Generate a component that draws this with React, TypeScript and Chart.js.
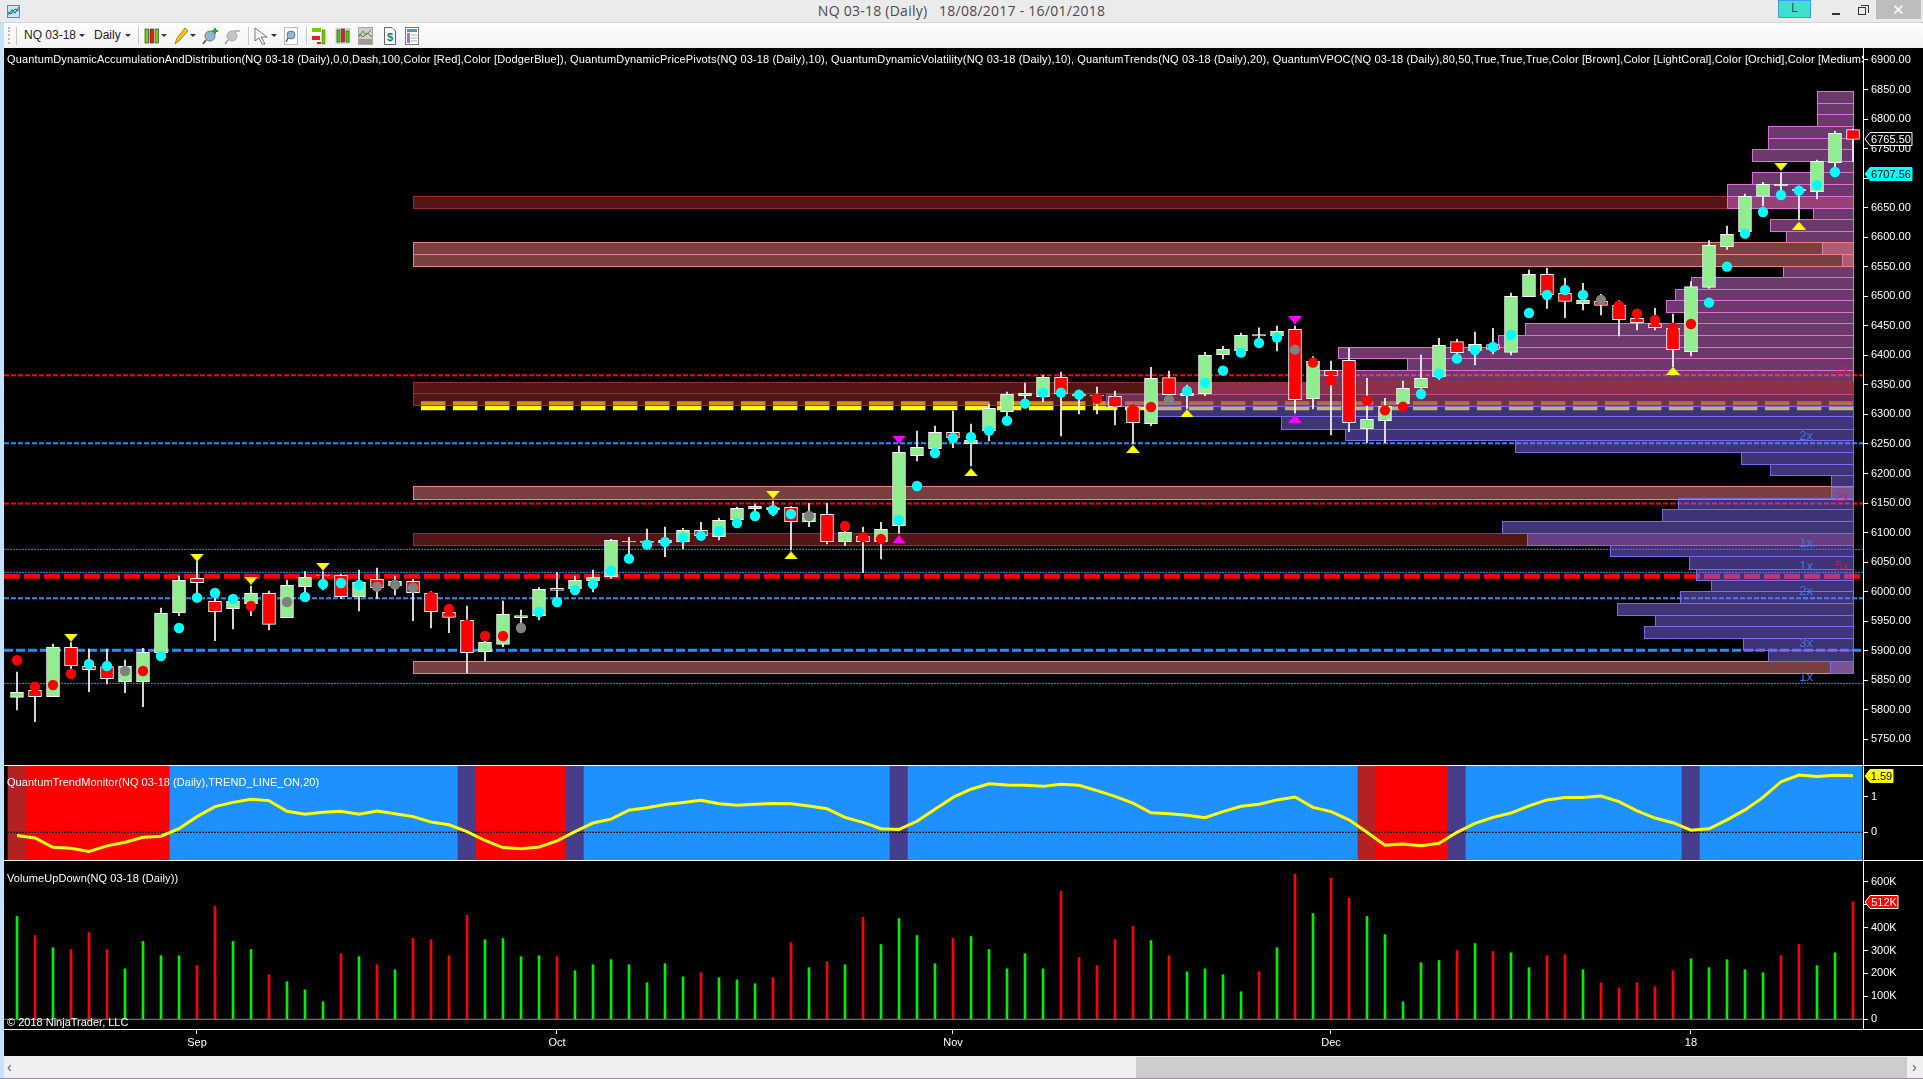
import React, { useEffect, useRef } from 'react';
import { Chart, registerables } from 'chart.js';

Chart.register(...registerables);

const FONT = '"Liberation Sans", Arial, sans-serif';

// ---------- candles (Open, High, Low, Close per daily bar) ----------
const opens = [5821,5832.9,5822.2,5905.7,5873.5,5873,5847.5,5847.5,5896.6,5964.4,6022.5,5983.5,5971.1,5979.6,5997.1,5955.9,6008.4,6028.6,6027.6,5991.4,6020.8,6009.5,6017.4,5997,5964.9,5951.4,5898.3,5910.8,5955.9,5959.3,6005.6,6005,6018.5,6025.3,6084.2,6083.4,6082.3,6084,6103.7,6093,6121.2,6140.4,6138.7,6142.7,6117.9,6130.8,6084.6,6094.2,6084.6,6111.6,6230.1,6242,6269.6,6250.5,6272.5,6304.6,6331.7,6330,6362.8,6334.5,6332.9,6330.6,6313.1,6284.3,6362.2,6331.7,6335.2,6401.2,6407.4,6433,6432.8,6444.1,6326.7,6374.7,6391.5,6275.9,6289.4,6318.2,6345.3,6363.9,6423.1,6407.3,6418.1,6405.1,6499.3,6537.1,6505,6487.5,6491.4,6485.2,6462.6,6453.6,6445.7,6406.2,6515.2,6584,6609.4,6669.2,6687.3,6681,6677.1,6726.2,6782.1];
const highs = [5864,5845.9,5911.3,5913.6,5902.8,5902.8,5884.2,5904,5972.3,6026.4,6050.7,6005.6,5991,6009.5,6001,6019.7,6033.8,6033.8,6029.8,6036.6,6040,6026.4,6020.8,6000,5975.6,5975.6,5916.4,5984.1,5968.9,6006.7,6032.1,6026.4,6036.6,6088.5,6091.9,6106,6109.4,6107.1,6117.3,6124,6143.2,6148.3,6153.4,6143.8,6149.4,6149.4,6107.1,6109.4,6117.3,6246.5,6271.9,6280.4,6305.8,6283.8,6317.6,6337.9,6353.2,6366.7,6371.8,6341.3,6346.4,6339.6,6315,6379.7,6373.5,6349.8,6405.2,6415.3,6437.9,6446.4,6449.7,6449.7,6397.8,6390.5,6411.8,6361,6327.2,6356.6,6400.6,6428.8,6427.1,6439.5,6445.7,6505.5,6544.5,6547.3,6530.4,6521.9,6503.3,6492.6,6473,6479.6,6470,6524.7,6594.2,6619,6673.2,6692.9,6709.3,6686.7,6730.7,6779.8,6783];
const lows = [5799.6,5779.8,5822.2,5867,5830.6,5843.6,5829,5805.2,5896.6,5959.3,5997.1,5917,5936.7,5959.3,5935,5955.9,5998.2,6002.7,5988.6,5967.2,5988.6,5994.3,5950.8,5938.4,5930.5,5862.8,5882.5,5906.8,5940.7,5951.9,5980,5997.1,5999.4,6022.5,6062,6073.3,6059.2,6072.1,6087.4,6087.4,6115.6,6126.9,6128.6,6070.5,6110,6080.6,6077.8,6032.1,6055.2,6098.7,6221.1,6236.9,6243.7,6212.7,6255,6296.2,6324.4,6321.6,6263.4,6300.7,6300.7,6282.1,6249.9,6280.9,6321.6,6310.3,6331.8,6393.9,6400.6,6420.4,6407.4,6301.9,6309.2,6265.2,6270.8,6252.2,6252.2,6313,6338.5,6359.4,6397.8,6383.6,6402.3,6400.6,6499.3,6479.6,6463.8,6476.8,6468.3,6432.7,6442.9,6442.9,6380.8,6398.9,6513.5,6579.5,6606.6,6652.9,6671.5,6629.2,6664.7,6719.4,6727.9];
const closes = [5829.5,5822.2,5906.2,5874.6,5867.9,5852.6,5874,5897.2,5963.2,6019.1,6015.2,5966,5984,5997.1,5944.6,6010.6,6024.2,6027.6,5991.4,6015.7,6006.7,6018,5998.2,5966,5956.5,5896.6,5914.1,5961.5,5959.3,6003.9,6002.2,6019.1,6024.2,6086.8,6085,6085.7,6086.8,6103.7,6094.7,6120.7,6141,6144.4,6142.1,6118.4,6133.1,6084.6,6100.4,6084.6,6105.4,6235.8,6244.3,6269.6,6260.6,6256.1,6310.3,6334,6335.7,6362.8,6334.5,6331.1,6331.1,6313.1,6286,6361,6333.4,6335.7,6400.1,6410.2,6433.9,6435,6440.7,6325,6389.9,6365.7,6286,6291.7,6313.7,6344.1,6361,6417,6404.5,6418.6,6410.2,6499.9,6537.1,6502.1,6491.4,6493.1,6484.7,6460.4,6455.3,6446.8,6409.6,6516.3,6586.3,6604.9,6669.2,6689.5,6689.5,6678.8,6728.5,6775.9,6765.5];

// ---------- volatility dots: value and kind (c cyan, r red, g gray, - none) ----------
const dotValues = [5884,5839,5842,5861,5877.5,5874,5865.6,5865.6,5891,5938.4,5989.8,5997.7,5987.5,5975.6,null,5982.4,5990.9,6012.9,6014.6,6011.2,6008.4,6011.8,6006.7,5991.5,5970.6,5944.6,5924.9,5924.9,5938.4,5965.5,5982.4,6002.7,6012.9,6035.5,6055.8,6079.5,6084,6091.3,6094.7,6102.6,6116,6128,6138.2,6131.4,6128,null,6111,6092.5,6089,6121.2,6178.8,6234.7,6260,6261.7,6272.5,6289.4,6318.2,6336.8,6336.8,6333.4,6326.6,6321.6,6308.6,6312.5,6324.4,6339.6,6353.8,6374.1,6404.6,6421,6430,6409.7,6387.7,6358.3,null,6323.3,6306.9,6313.1,6334.6,6369,6394.4,6409,6414.1,6434.4,6471.7,6502.1,6510.6,6502.1,6493.7,6484,6470.5,6459.8,6446.8,6453.1,6489.2,6550.2,6606,6642.7,6671.5,6678.8,6688.4,6710.4,null];
const dotKinds = 'rrrrccgrcc' + 'cccr-gcccc' + 'gggrrrrrgc' + 'cccccccccc' + 'ccccg-rrrc' + 'cccccccccc' + 'rrrrgccccc' + 'cgrr-rrrcc' + 'ccccccccgr' + 'rrrrcccccc' + 'cc-';

// ---------- pivot triangles: bar index and price ----------
const pivotDownBars = [3, 10, 13, 17, 42, 98];
const pivotDownPrices = [5922, 6057.5, 6018.5, 6042.2, 6164.1, 6719.4];
const pivotUpBars = [43, 53, 62, 65, 92, 99];
const pivotUpPrices = [6061.4, 6202, 6241.4, 6301.8, 6374, 6619.6];
const extremeDownBars = [49, 71];
const extremeDownPrices = [6257.2, 6459.3];
const extremeUpBars = [49, 71];
const extremeUpPrices = [6088.5, 6292.9];

// ---------- accumulation / distribution levels ----------
const redLevels = [6366.1, 6149.4, 6025.9];
const blueLevels = [6251, 6071.6, 6032.6, 5988.6, 5900.6, 5844.7];
const vpocLevel = 6314.8;

// ---------- VPOC zones (each is either under or over the profile) ----------
const darkZoneLows = [6650, 6335.7, 6315.4, 6079.5];
const darkZoneHighs = [6669.3, 6354.9, 6335.7, 6099.2];
const darkZoneOnTop = [false, true, true, false];
const lightZoneLows = [6571.1, 6551.8, 6157.3, 5862.8];
const lightZoneHighs = [6591.4, 6571.1, 6178.8, 5882.5];
const lightZoneOnTop = [true, true, false, false];
const zoneFirstBar = 22;
const zoneLastBar = 102;

// ---------- volume profile: price edges and the bar where each row begins ----------
const profileEdges = [5862.8,5882,5901.7,5922,5941,5961,5981,6000.5,6020,6039,6059.7,6079.5,6098.7,6119,6139.3,6158.5,6177.7,6196.9,6216.6,6237,6256,6275.9,6296.7,6314.8,6334.6,6354.9,6374.6,6395,6413.6,6433.9,6454,6472.8,6493.1,6512.3,6532,6551.5,6571,6591.4,6611,6630,6650,6669,6689.5,6709.8,6728.5,6748.8,6768.5,6788.3,6808,6826.7,6847];
const profileStarts = [100.7,97.3,95.9,90.4,91,88.9,92.4,94.1,93.3,92.9,88.5,83.9,82.5,91.4,92.3,100.8,100.8,97.4,95.8,83.2,73.8,70.2,63.3,60.5,64,72.3,77.2,73.4,82.3,83.8,92.6,91.6,92.1,93,98.1,101.4,100.3,98.3,97.4,99.8,95,95,96.4,100,96.4,97.3,97.3,100,100,100];
const profileLowerRows = 24;

// ---------- level multipliers written on the profile ----------
const multiplierTexts = ['2x', '2x', '2x', '1x', '1x', '5x', '2x', '3x', '1x'];
const multiplierBars = [101.4, 99.4, 101.4, 99.4, 99.4, 101.4, 99.4, 99.4, 99.4];
const multiplierPrices = [6376, 6262, 6160, 6081, 6042, 6042, 6000, 5913, 5854];
const multiplierKinds = 'rbrbbrbbb';

// ---------- trend monitor ----------
const trendValues = [-0.09,-0.16,-0.42,-0.45,-0.54,-0.38,-0.28,-0.14,-0.11,0.1,0.44,0.72,0.84,0.93,0.89,0.59,0.51,0.56,0.59,0.51,0.6,0.52,0.44,0.29,0.21,0.02,-0.23,-0.43,-0.46,-0.41,-0.24,0.02,0.26,0.37,0.62,0.69,0.78,0.84,0.9,0.8,0.76,0.79,0.81,0.8,0.74,0.66,0.42,0.28,0.1,0.08,0.31,0.65,0.98,1.21,1.36,1.33,1.32,1.29,1.35,1.32,1.17,1.01,0.82,0.55,0.52,0.48,0.41,0.58,0.73,0.79,0.91,0.99,0.7,0.58,0.35,0,-0.36,-0.33,-0.38,-0.31,0,0.25,0.42,0.54,0.74,0.91,0.98,0.98,1.02,0.86,0.6,0.4,0.27,0.06,0.1,0.35,0.63,0.98,1.42,1.61,1.57,1.6,1.59];
const trendStates = 'f' + 'rrrrrrrr' + 'bbbbbbbbbbbbbbbb' + 'p' + 'rrrrr' + 'p' + 'bbbbbbbbbbbbbbbbb' + 'p' + 'bbbbbbbbbbbbbbbbbbbbbbbbb' + 'f' + 'rrrr' + 'p' + 'bbbbbbbbbbbb' + 'p' + 'bbbbbbbbb';

// ---------- volume, thousands ----------
const volumes = [448,365,312,304,378,304,220,339,277,277,234,492,339,304,194,164,128,76,286,273,238,216,352,347,277,453,347,352,273,277,273,212,238,260,238,159,242,185,203,181,172,155,181,334,225,251,238,444,326,439,365,242,352,361,304,220,286,220,558,269,234,347,404,343,277,207,220,194,120,207,312,632,461,615,527,448,369,76,247,256,299,330,295,290,225,277,282,216,159,137,159,142,212,264,225,260,216,203,277,326,234,290,512];
const volumeDirections = 'grgrrrgggg' + 'rrggrgggrg' + 'rgrrrrgggg' + 'rgggggggrg' + 'ggrrgrgrgg' + 'ggrgggggrr' + 'rrrgrggggr' + 'grgrrggggg' + 'rgrggrrgrr' + 'rrrgggggrr' + 'ggr';

// ---------- axes ----------
const priceTicks = [6900,6850,6800,6750,6700,6650,6600,6550,6500,6450,6400,6350,6300,6250,6200,6150,6100,6050,6000,5950,5900,5850,5800,5750];
const trendTicks = [1, 0];
const volumeTicks = [600,500,400,300,200,100,0];
const monthBars = [10, 30, 52, 73, 93];
const monthLabels = ['Sep', 'Oct', 'Nov', 'Dec', '18'];
const lastPrice = 6765.5;
const lastVolatility = 6707.56;
const lastTrend = 1.59;
const lastVolume = 512;

const priceLegend = 'QuantumDynamicAccumulationAndDistribution(NQ 03-18 (Daily),0,0,Dash,100,Color [Red],Color [DodgerBlue]), QuantumDynamicPricePivots(NQ 03-18 (Daily),10), QuantumDynamicVolatility(NQ 03-18 (Daily),10), QuantumTrends(NQ 03-18 (Daily),20), QuantumVPOC(NQ 03-18 (Daily),80,50,True,True,True,Color [Brown],Color [LightCoral],Color [Orchid],Color [MediumSlateBlue])';
const trendLegend = 'QuantumTrendMonitor(NQ 03-18 (Daily),TREND_LINE_ON,20)';
const volumeLegend = 'VolumeUpDown(NQ 03-18 (Daily))';
const copyright = '© 2018 NinjaTrader, LLC';

// ---------- drawing styles ----------
const X_MIN = -0.722;
const X_MAX = 102.556;
const PRICE_MIN = 5706.5;
const PRICE_MAX = 6920.3;
const TREND_MIN = -0.806;
const TREND_MAX = 1.862;
const VOL_MIN = -42.3;
const VOL_MAX = 690;

const bars = opens.map((_, i) => i);
const redStyles = [{ w: 2, d: [5, 2] }, { w: 2, d: [5, 2] }, { w: 5, d: [16, 4] }];
const blueStyles = [{ w: 2, d: [5, 2] }, { w: 1, d: [2, 1] }, { w: 1, d: [2, 1] }, { w: 2, d: [5, 2] }, { w: 3, d: [9, 3] }, { w: 1, d: [2, 1] }];

function triangle(color: string, down: boolean) {
  const c = document.createElement('canvas');
  c.width = 14;
  c.height = 8;
  const g = c.getContext('2d')!;
  g.fillStyle = color;
  g.beginPath();
  if (down) {
    g.moveTo(0, 0); g.lineTo(14, 0); g.lineTo(7, 8);
  } else {
    g.moveTo(0, 8); g.lineTo(14, 8); g.lineTo(7, 0);
  }
  g.closePath();
  g.fill();
  return c;
}

function pointsOf(barList: number[], values: number[]) {
  return barList.map((b, i) => ({ x: b, y: values[i] }));
}

function horizontal(y: number, from = X_MIN, to = X_MAX) {
  return [{ x: from, y }, { x: to, y }];
}

function levelDataset(label: string, y: number, color: string, s: { w: number; d: number[] }, from = X_MIN, to = X_MAX) {
  return {
    type: 'line', label, data: horizontal(y, from, to), borderColor: color, borderWidth: s.w,
    borderDash: s.d, pointRadius: 0, fill: false, borderCapStyle: 'butt', tension: 0,
  };
}

function drawRow(ctx: any, chart: any, from: number, to: number, low: number, high: number, fill: string, stroke: string) {
  const { x, y } = chart.scales;
  const l = Math.round(x.getPixelForValue(from));
  const r = Math.round(x.getPixelForValue(to));
  const t = Math.round(y.getPixelForValue(high));
  const b = Math.round(y.getPixelForValue(low));
  ctx.fillStyle = fill;
  ctx.fillRect(l, t, r - l, b - t);
  ctx.strokeStyle = stroke;
  ctx.lineWidth = 1;
  ctx.strokeRect(l + 0.5, t + 0.5, r - l, b - t);
}

function drawZones(ctx: any, chart: any, onTop: boolean) {
  darkZoneLows.forEach((low, i) => {
    if (darkZoneOnTop[i] === onTop) drawRow(ctx, chart, zoneFirstBar, zoneLastBar, low, darkZoneHighs[i], 'rgba(165,42,42,0.5)', 'rgba(165,42,42,0.95)');
  });
  lightZoneLows.forEach((low, i) => {
    if (lightZoneOnTop[i] === onTop) drawRow(ctx, chart, zoneFirstBar, zoneLastBar, low, lightZoneHighs[i], 'rgba(240,128,128,0.5)', 'rgba(240,128,128,1)');
  });
}

function drawZonesAndProfile(chart: any) {
  const ctx = chart.ctx;
  ctx.save();
  drawZones(ctx, chart, false);
  profileStarts.forEach((start, i) => {
    const lower = i < profileLowerRows;
    drawRow(ctx, chart, start, zoneLastBar, profileEdges[i], profileEdges[i + 1],
      lower ? 'rgba(123,104,238,0.5)' : 'rgba(218,112,214,0.5)',
      lower ? 'rgba(123,104,238,1)' : 'rgba(218,112,214,1)');
  });
  drawZones(ctx, chart, true);
  ctx.font = `13px ${FONT}`;
  ctx.textAlign = 'center';
  ctx.textBaseline = 'middle';
  multiplierTexts.forEach((t, i) => {
    ctx.fillStyle = multiplierKinds[i] === 'r' ? 'rgba(225,20,70,0.8)' : 'rgba(60,120,235,0.95)';
    ctx.fillText(t, chart.scales.x.getPixelForValue(multiplierBars[i]), chart.scales.y.getPixelForValue(multiplierPrices[i]));
  });
  ctx.restore();
}

function drawLegend(chart: any, text: string, y: number, spacing = 0) {
  const ctx = chart.ctx;
  ctx.save();
  ctx.beginPath();
  ctx.rect(0, 0, chart.chartArea.right, chart.height);
  ctx.clip();
  ctx.font = `11px ${FONT}`;
  ctx.letterSpacing = `${spacing}px`;
  ctx.fillStyle = '#ffffff';
  ctx.textAlign = 'left';
  ctx.textBaseline = 'middle';
  ctx.fillText(text, 3, y);
  ctx.restore();
}

function drawTag(chart: any, scaleValue: number, w: number, h: number, fill: string, stroke: string, color: string, text: string) {
  const ctx = chart.ctx;
  const yc = Math.round(chart.scales.y.getPixelForValue(scaleValue));
  const xl = chart.chartArea.right + 2;
  ctx.save();
  ctx.beginPath();
  ctx.moveTo(xl, yc);
  ctx.lineTo(xl + 5, yc - h / 2);
  ctx.lineTo(xl + w, yc - h / 2);
  ctx.lineTo(xl + w, yc + h / 2);
  ctx.lineTo(xl + 5, yc + h / 2);
  ctx.closePath();
  ctx.fillStyle = fill;
  ctx.fill();
  ctx.lineWidth = 1;
  ctx.strokeStyle = stroke;
  ctx.stroke();
  ctx.font = `11px ${FONT}`;
  ctx.fillStyle = color;
  ctx.textAlign = 'center';
  ctx.textBaseline = 'middle';
  ctx.fillText(text, xl + (w + 5) / 2, yc + 0.5);
  ctx.restore();
}

const pricePlugin = {
  id: 'priceOverlay',
  beforeDatasetDraw(chart: any, args: any) {
    if (chart.data.datasets[args.index].label === 'Wicks') drawZonesAndProfile(chart);
  },
  afterDraw(chart: any) {
    drawLegend(chart, priceLegend, 12, 0.14);
    drawTag(chart, lastPrice, 47, 13, '#000000', '#ffffff', '#ffffff', lastPrice.toFixed(2));
    drawTag(chart, lastVolatility, 47, 13, '#00ffff', '#00ffff', '#000000', lastVolatility.toFixed(2));
  },
};

const trendPlugin = {
  id: 'trendOverlay',
  afterDraw(chart: any) {
    drawLegend(chart, trendLegend, 17, 0.05);
    drawTag(chart, lastTrend, 28, 13, '#ffff00', '#ffff00', '#000000', lastTrend.toFixed(2));
  },
};

const volumePlugin = {
  id: 'volumeOverlay',
  afterDraw(chart: any) {
    drawLegend(chart, volumeLegend, 18, 0.08);
    drawLegend(chart, copyright, 162);
    drawTag(chart, lastVolume, 33, 13, '#ff0000', '#ffffff', '#ffffff', `${lastVolume}K`);
  },
};

function xScale(visible: boolean) {
  if (!visible) return { type: 'linear', display: false, min: X_MIN, max: X_MAX, offset: false, grid: { display: false } };
  return {
    type: 'linear', min: X_MIN, max: X_MAX, offset: false,
    afterBuildTicks(a: any) { a.ticks = monthBars.map((v) => ({ value: v })); },
    afterFit(a: any) { a.height = 27; a.paddingLeft = 0; a.paddingRight = 0; },
    grid: { drawOnChartArea: false, drawTicks: true, tickLength: 5, tickColor: '#ffffff', offset: false },
    border: { display: false },
    ticks: {
      autoSkip: false, maxRotation: 0, minRotation: 0, color: '#ffffff', padding: 2,
      font: { family: FONT, size: 11 },
      callback: (v: number) => monthLabels[monthBars.indexOf(v)] ?? '',
    },
  };
}

function yScale(min: number, max: number, tickList: number[], fmt: (v: number) => string) {
  return {
    type: 'linear', position: 'right', min, max,
    afterBuildTicks(a: any) { a.ticks = tickList.map((v) => ({ value: v })); },
    afterFit(a: any) { a.width = 60; a.paddingTop = 0; a.paddingBottom = 0; },
    grid: { drawOnChartArea: false, drawTicks: true, tickLength: 5, tickColor: '#ffffff' },
    border: { display: true, color: '#ffffff', width: 1 },
    ticks: { autoSkip: false, color: '#ffffff', padding: 3, font: { family: FONT, size: 11 }, callback: fmt },
  };
}

function makeChart(canvas: HTMLCanvasElement, datasets: any[], x: any, y: any, plugin: any) {
  return new Chart(canvas, {
    type: 'bar',
    data: { datasets },
    options: {
      responsive: false,
      animation: false,
      devicePixelRatio: 1,
      events: [],
      layout: { autoPadding: false, padding: 0 },
      datasets: { bar: { grouped: false } },
      scales: { x, y },
      plugins: { legend: { display: false }, tooltip: { enabled: false }, title: { display: false } },
    } as any,
    plugins: [plugin],
  } as any);
}

function markerDataset(label: string, data: any[], style: any) {
  return { type: 'line', label, data, showLine: false, pointStyle: style, pointRadius: 7, pointBorderWidth: 0 };
}

function priceDatasets() {
  const dotColor: Record<string, string> = { c: '#00ffff', r: '#ff0000', g: '#808080' };
  const dotPoints: any[] = [];
  const dotColors: string[] = [];
  dotValues.forEach((v, i) => {
    if (v === null) return;
    dotPoints.push({ x: i, y: v });
    dotColors.push(dotColor[dotKinds[i]]);
  });
  return [
    markerDataset('Pivot down', pointsOf(pivotDownBars, pivotDownPrices), triangle('#ffff00', true)),
    markerDataset('Pivot up', pointsOf(pivotUpBars, pivotUpPrices), triangle('#ffff00', false)),
    markerDataset('Extreme down', pointsOf(extremeDownBars, extremeDownPrices), triangle('#ff00ff', true)),
    markerDataset('Extreme up', pointsOf(extremeUpBars, extremeUpPrices), triangle('#ff00ff', false)),
    {
      type: 'line', label: 'Volatility', data: dotPoints, showLine: false, pointStyle: 'circle',
      pointRadius: 5.2, pointBorderWidth: 0, pointBackgroundColor: dotColors,
    },
    {
      type: 'bar', label: 'Bodies', data: bars.map((i) => ({ x: i, y: [opens[i], closes[i]] })),
      backgroundColor: bars.map((i) => (closes[i] >= opens[i] ? '#90ee90' : '#ff0000')),
      borderColor: '#ffffff', borderWidth: 1, borderSkipped: false, barThickness: 13,
    },
    {
      type: 'bar', label: 'Wicks', data: bars.map((i) => ({ x: i, y: [lows[i], highs[i]] })),
      backgroundColor: '#ffffff', barThickness: 1,
    },
    levelDataset('VPOC', vpocLevel, '#ffff00', { w: 9, d: [24.5, 7.5] }, 22.44, zoneLastBar),
    ...redLevels.map((v, i) => levelDataset(`Resistance ${i}`, v, '#ff0000', redStyles[i])),
    ...blueLevels.map((v, i) => levelDataset(`Support ${i}`, v, '#1e90ff', blueStyles[i])),
  ];
}

function trendDatasets() {
  const stateColor: Record<string, string> = { f: '#b22222', r: '#ff0000', b: '#1e90ff', p: '#483d8b' };
  return [
    {
      type: 'line', label: 'Trend', data: bars.map((i) => ({ x: i, y: trendValues[i] })),
      borderColor: '#ffff00', borderWidth: 3, pointRadius: 0, tension: 0,
    },
    {
      type: 'line', label: 'Zero', data: horizontal(0), borderColor: '#000000', borderWidth: 1,
      borderDash: [2, 1], pointRadius: 0,
    },
    {
      type: 'bar', label: 'State', data: bars.map((i) => ({ x: i, y: [TREND_MIN, TREND_MAX] })),
      backgroundColor: bars.map((i) => stateColor[trendStates[i]]), barThickness: 18, borderWidth: 0,
    },
  ];
}

function volumeDatasets() {
  return [
    {
      type: 'line', label: 'Zero', data: horizontal(0), borderColor: '#8a8a8a', borderWidth: 1, pointRadius: 0,
    },
    {
      type: 'bar', label: 'Volume', data: bars.map((i) => ({ x: i, y: volumes[i] })),
      backgroundColor: bars.map((i) => (volumeDirections[i] === 'g' ? '#00ee00' : '#ff0000')), barThickness: 2,
    },
  ];
}

const absolute = (left: number, top: number, width: number, height: number, extra: any = {}) => ({
  position: 'absolute', left, top, width, height, ...extra,
}) as React.CSSProperties;

function Caret({ x }: { x: number }) {
  return <div style={{ position: 'absolute', left: x, top: 34, width: 0, height: 0, borderLeft: '3px solid transparent', borderRight: '3px solid transparent', borderTop: '3px solid #333' }} />;
}

function CandleIcon({ x }: { x: number }) {
  return (
    <svg style={absolute(x, 26, 16, 20)} viewBox="0 0 16 20">
      <rect x="0.5" y="2" width="15" height="16" fill="#cfcfcf" />
      <rect x="2" y="4" width="3" height="12" fill="#55d000" stroke="#222" strokeWidth="0.5" />
      <rect x="6.5" y="3" width="3" height="13" fill="#e02020" stroke="#222" strokeWidth="0.5" />
      <rect x="11" y="5" width="3" height="11" fill="#55d000" stroke="#222" strokeWidth="0.5" />
    </svg>
  );
}

function Toolbar() {
  return (
    <>
      <div style={absolute(0, 0, 1923, 22, { background: '#ebebeb' })} />
      <div style={absolute(0, 22, 1923, 1, { background: '#d4d4d4' })} />
      <div style={absolute(4, 23, 1919, 25, { background: 'linear-gradient(#ffffff, #f2f2f2)' })} />
      <svg style={absolute(7, 5, 13, 13)} viewBox="0 0 13 13">
        <rect x="0.5" y="0.5" width="12" height="12" fill="#cfe4f8" stroke="#6d86a5" />
        <path d="M1 10 L5 5 L8 8 L12 2" stroke="#23a030" fill="none" strokeWidth="1.2" />
        <path d="M1 7 L4 9 L8 4 L12 6" stroke="#2050c0" fill="none" strokeWidth="1" />
      </svg>
      <div style={absolute(520, 2, 883, 18, { textAlign: 'center', font: '14px "Open Sans", sans-serif', letterSpacing: '0.25px', color: '#4a4a4a', lineHeight: '18px', whiteSpace: 'pre' })}>NQ 03-18 (Daily)   18/08/2017 - 16/01/2018</div>
      <div style={absolute(1778, 0, 33, 18, { background: '#40e0d0', border: '1px solid #3b9cf0', boxSizing: 'border-box', textAlign: 'center', font: `12px ${FONT}`, lineHeight: '15px', color: '#1c5a55' })}>L</div>
      <div style={absolute(1832, 13, 8, 2, { background: '#333' })} />
      <div style={absolute(1858, 7, 8, 8, { border: '1px solid #333', boxSizing: 'border-box' })} />
      <div style={absolute(1861, 5, 8, 8, { borderTop: '1px solid #333', borderRight: '1px solid #333', boxSizing: 'border-box' })} />
      <div style={absolute(1876, 0, 45, 19, { background: '#bdbdbd', color: '#fff', textAlign: 'center', font: `15px ${FONT}`, lineHeight: '19px' })}>✕</div>

      <div style={absolute(8, 27, 2, 17, { borderLeft: '2px dotted #bbb' })} />
      <div style={absolute(16, 27, 1, 18, { background: '#c8c8c8' })} />
      <div style={absolute(24, 27, 54, 16, { font: `12px ${FONT}`, color: '#222', lineHeight: '16px', whiteSpace: 'nowrap' })}>NQ 03-18</div>
      <Caret x={79} />
      <div style={absolute(94, 27, 30, 16, { font: `12px ${FONT}`, color: '#222', lineHeight: '16px' })}>Daily</div>
      <Caret x={125} />
      <div style={absolute(138, 27, 1, 18, { background: '#c8c8c8' })} />
      <svg style={absolute(144, 26, 15, 20)} viewBox="0 0 15 20">
        <rect x="1" y="3" width="3.5" height="14" fill="#7ad000" stroke="#222" strokeWidth="0.6" />
        <rect x="6" y="3" width="3.5" height="14" fill="#e02020" stroke="#222" strokeWidth="0.6" />
        <rect x="11" y="3" width="3.5" height="14" fill="#7ad000" stroke="#222" strokeWidth="0.6" />
      </svg>
      <Caret x={161} />
      <svg style={absolute(173, 27, 16, 18)} viewBox="0 0 16 18">
        <path d="M2 17 L4 11 L12 1 L15 4 L6 14 Z" fill="#f0c020" stroke="#8a6a00" strokeWidth="0.7" />
      </svg>
      <Caret x={190} />
      <svg style={absolute(202, 27, 17, 18)} viewBox="0 0 17 18">
        <circle cx="8" cy="9" r="5" fill="#8fb8de" stroke="#777" />
        <path d="M4 13 L1 17" stroke="#666" strokeWidth="2" />
        <path d="M13 1 V7 M10 4 H16" stroke="#20b020" strokeWidth="2" />
      </svg>
      <svg style={absolute(224, 27, 17, 18)} viewBox="0 0 17 18">
        <circle cx="8" cy="9" r="5" fill="#c4c4c4" stroke="#aaa" />
        <path d="M4 13 L1 17" stroke="#aaa" strokeWidth="2" />
        <path d="M10 4 H16" stroke="#bbb" strokeWidth="2" />
      </svg>
      <div style={absolute(248, 27, 1, 18, { background: '#c8c8c8' })} />
      <svg style={absolute(254, 27, 14, 18)} viewBox="0 0 14 18">
        <path d="M1 1 L13 10 L7 10 L11 17 L8 17 L5 11 L1 14 Z" fill="#fff" stroke="#555" strokeWidth="0.8" />
      </svg>
      <Caret x={271} />
      <svg style={absolute(284, 27, 14, 18)} viewBox="0 0 14 18">
        <rect x="0.5" y="0.5" width="13" height="17" fill="#fff" stroke="#bbb" />
        <circle cx="7" cy="8" r="4" fill="#8fb8de" stroke="#777" />
        <path d="M4 11 L2 15" stroke="#666" strokeWidth="1.6" />
      </svg>
      <div style={absolute(306, 27, 1, 18, { background: '#c8c8c8' })} />
      <svg style={absolute(312, 27, 15, 18)} viewBox="0 0 15 18">
        <rect x="0" y="1" width="9" height="4" fill="#70d000" />
        <rect x="0" y="9" width="8" height="4" fill="#e02020" />
        <rect x="10" y="3" width="3" height="14" fill="#70d000" stroke="#333" strokeWidth="0.4" />
        <rect x="5" y="15" width="4" height="2" fill="#e02020" />
      </svg>
      <CandleIcon x={335} />
      <svg style={absolute(358, 27, 15, 18)} viewBox="0 0 15 18">
        <rect x="0.5" y="0.5" width="14" height="17" fill="#cfcfcf" stroke="#aaa" />
        <path d="M1 10 L5 4 L8 8 L13 3" stroke="#30a030" fill="none" />
        <path d="M1 7 L5 10 L9 6 L14 10" stroke="#d04040" fill="none" />
        <rect x="1" y="12" width="13" height="5" fill="#9a9a9a" />
      </svg>
      <svg style={absolute(384, 27, 12, 18)} viewBox="0 0 12 18">
        <path d="M0.5 0.5 H8 L11.5 4 V17.5 H0.5 Z" fill="#fff" stroke="#666" />
        <text x="6" y="14" textAnchor="middle" fontSize="11" fontWeight="bold" fill="#108a30" fontFamily="Liberation Sans">$</text>
      </svg>
      <svg style={absolute(405, 27, 14, 18)} viewBox="0 0 14 18">
        <rect x="0.5" y="0.5" width="13" height="17" fill="#fff" stroke="#777" />
        <rect x="2" y="2" width="10" height="3" fill="#5b8fd0" />
        <rect x="2" y="6" width="3" height="10" fill="#a070e0" />
        <path d="M6 8 H12 M6 11 H12 M6 14 H12" stroke="#9ab" />
      </svg>
    </>
  );
}

export default function App() {
  const priceRef = useRef<HTMLCanvasElement>(null);
  const trendRef = useRef<HTMLCanvasElement>(null);
  const volumeRef = useRef<HTMLCanvasElement>(null);

  useEffect(() => {
    document.body.style.margin = '0';
    document.body.style.overflow = 'hidden';
    const charts = [
      makeChart(priceRef.current!, priceDatasets(), xScale(false), yScale(PRICE_MIN, PRICE_MAX, priceTicks, (v) => Number(v).toFixed(2)), pricePlugin),
      makeChart(trendRef.current!, trendDatasets(), xScale(false), yScale(TREND_MIN, TREND_MAX, trendTicks, (v) => String(v)), trendPlugin),
      makeChart(volumeRef.current!, volumeDatasets(), xScale(true), yScale(VOL_MIN, VOL_MAX, volumeTicks, (v) => (Number(v) === 0 ? '0' : `${v}K`)), volumePlugin),
    ];
    return () => charts.forEach((c) => c.destroy());
  }, []);

  return (
    <div style={{ position: 'relative', width: 1923, height: 1079, background: '#000', overflow: 'hidden' }}>
      <Toolbar />
      <div style={absolute(0, 23, 4, 1056, { background: '#c5e2ff' })} />
      <canvas ref={priceRef} width={1919} height={717} style={absolute(4, 48, 1919, 717, { display: 'block' })} />
      <canvas ref={trendRef} width={1919} height={95} style={absolute(4, 766, 1919, 95, { display: 'block' })} />
      <canvas ref={volumeRef} width={1919} height={195} style={absolute(4, 861, 1919, 195, { display: 'block' })} />
      <div style={absolute(4, 765, 1919, 1, { background: '#fff' })} />
      <div style={absolute(4, 860, 1919, 1, { background: '#fff' })} />
      <div style={absolute(4, 1029, 1919, 1, { background: '#fff' })} />
      <div style={absolute(4, 1056, 1919, 22, { background: '#f0f0f0' })} />
      <div style={absolute(1136, 1057, 771, 21, { background: '#cdcdcd' })} />
      <div style={absolute(7, 1058, 12, 18, { font: `14px ${FONT}`, color: '#555', lineHeight: '18px' })}>‹</div>
      <div style={absolute(1912, 1058, 10, 18, { font: `14px ${FONT}`, color: '#555', lineHeight: '18px' })}>›</div>
      <div style={absolute(0, 1078, 1923, 1, { background: '#9a86b8' })} />
    </div>
  );
}
